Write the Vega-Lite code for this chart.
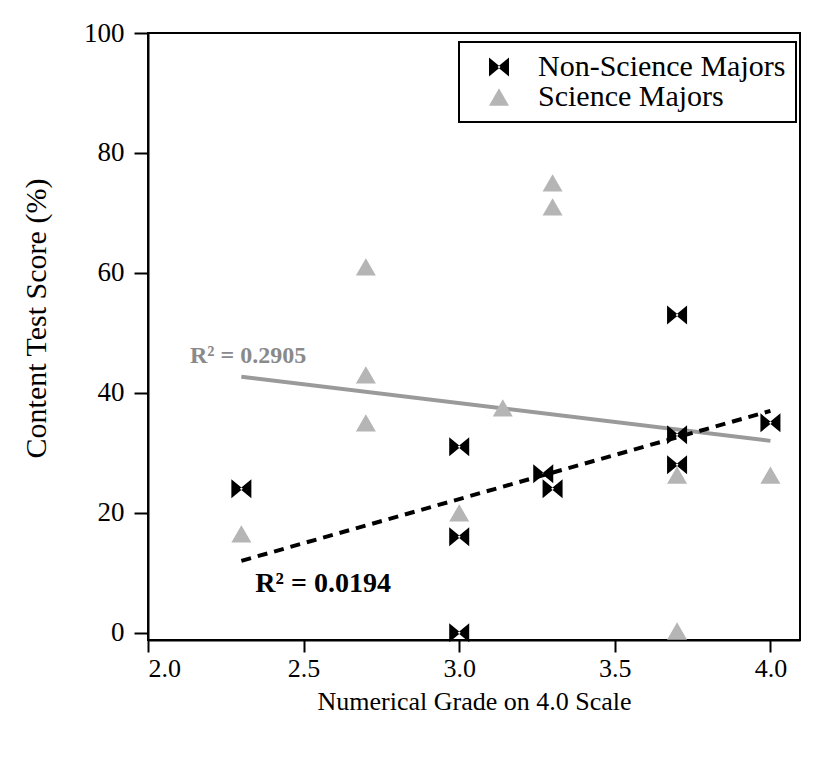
{
  "$schema": "https://vega.github.io/schema/vega-lite/v6.json",
  "width": 652,
  "height": 607,
  "autosize": {"type": "none"},
  "padding": {"left": 148, "top": 33, "right": 14, "bottom": 122},
  "background": "white",
  "config": {
    "font": "Liberation Serif",
    "view": {"stroke": "black", "strokeWidth": 2},
    "axis": {
      "grid": false,
      "domainColor": "black",
      "domainWidth": 2,
      "tickColor": "black",
      "tickWidth": 2,
      "labelColor": "black",
      "titleColor": "black",
      "titleFontWeight": "normal",
      "labelFont": "Liberation Serif",
      "titleFont": "Liberation Serif"
    }
  },
  "layer": [
    {
      "data": {"values": [
        {"grade": 2.3, "score": 42.7},
        {"grade": 4.0, "score": 32}
      ]},
      "mark": {"type": "line", "color": "#9a9a9a", "strokeWidth": 4},
      "encoding": {
        "x": {"field": "grade", "type": "quantitative", "scale": {"domain": [2, 4.095], "nice": false, "zero": false},
          "axis": {"values": [2, 2.5, 3, 3.5, 4], "labelExpr": "format(datum.value, '.1f')", "tickSize": 12, "labelPadding": 3, "labelFontSize": 26, "title": "Numerical Grade on 4.0 Scale", "titleFontSize": 26, "titlePadding": 7}},
        "y": {"field": "score", "type": "quantitative", "scale": {"domain": [-1.2, 100], "nice": false, "zero": false},
          "axis": {"values": [0, 20, 40, 60, 80, 100], "tickSize": 14, "labelPadding": 10, "labelFontSize": 27, "title": "Content Test Score (%)", "titleFontSize": 30, "titlePadding": 32, "titleY": 285}}
      }
    },
    {
      "data": {"values": [
        {"grade": 2.3, "score": 12},
        {"grade": 4.0, "score": 37}
      ]},
      "mark": {"type": "line", "color": "black", "strokeWidth": 4, "strokeDash": [10, 7]},
      "encoding": {
        "x": {"field": "grade", "type": "quantitative"},
        "y": {"field": "score", "type": "quantitative"}
      }
    },
    {
      "data": {"values": [
        {"grade": 2.3, "score": 24, "group": "Non-Science Majors"},
        {"grade": 3.0, "score": 31, "group": "Non-Science Majors"},
        {"grade": 3.0, "score": 16, "group": "Non-Science Majors"},
        {"grade": 3.0, "score": 0, "group": "Non-Science Majors"},
        {"grade": 3.27, "score": 26.5, "group": "Non-Science Majors"},
        {"grade": 3.3, "score": 24, "group": "Non-Science Majors"},
        {"grade": 3.7, "score": 53, "group": "Non-Science Majors"},
        {"grade": 3.7, "score": 33, "group": "Non-Science Majors"},
        {"grade": 3.7, "score": 28, "group": "Non-Science Majors"},
        {"grade": 4.0, "score": 35, "group": "Non-Science Majors"},
        {"grade": 2.3, "score": 16.5, "group": "Science Majors"},
        {"grade": 2.7, "score": 61, "group": "Science Majors"},
        {"grade": 2.7, "score": 43, "group": "Science Majors"},
        {"grade": 2.7, "score": 35, "group": "Science Majors"},
        {"grade": 3.0, "score": 20, "group": "Science Majors"},
        {"grade": 3.14, "score": 37.5, "group": "Science Majors"},
        {"grade": 3.3, "score": 75, "group": "Science Majors"},
        {"grade": 3.3, "score": 71, "group": "Science Majors"},
        {"grade": 3.7, "score": 26.3, "group": "Science Majors"},
        {"grade": 3.7, "score": 0.3, "group": "Science Majors"},
        {"grade": 4.0, "score": 26.3, "group": "Science Majors"}
      ]},
      "mark": {"type": "point", "filled": true, "opacity": 1, "strokeWidth": 0, "size": 400},
      "encoding": {
        "x": {"field": "grade", "type": "quantitative"},
        "y": {"field": "score", "type": "quantitative"},
        "color": {"field": "group", "type": "nominal",
          "scale": {"domain": ["Non-Science Majors", "Science Majors"], "range": ["#000000", "#b5b5b5"]},
          "legend": {"title": null, "orient": "none", "legendX": 311, "legendY": 9,
            "strokeColor": "black", "padding": 10, "labelFontSize": 30, "labelColor": "black", "labelLimit": 400,
            "symbolSize": 400, "symbolOffset": 15, "labelOffset": 24, "rowPadding": 0, "symbolStrokeWidth": 0, "symbolOpacity": 1,
            "encode": {"legend": {"update": {"strokeWidth": {"value": 2}}}}}},
        "shape": {"field": "group", "type": "nominal",
          "scale": {"domain": ["Non-Science Majors", "Science Majors"], "range": ["M-1,-0.95L0.15,0L-1,0.95ZM1,-0.95L-0.15,0L1,0.95Z", "triangle-up"]}}
      }
    },
    {
      "data": {"values": [{"grade": 2.135, "score": 45.0, "label": "R² = 0.2905"}]},
      "mark": {"type": "text", "align": "left", "baseline": "alphabetic", "fontSize": 24, "fontWeight": "bold", "font": "Liberation Serif", "color": "#8a8a8a"},
      "encoding": {
        "x": {"field": "grade", "type": "quantitative"},
        "y": {"field": "score", "type": "quantitative"},
        "text": {"field": "label", "type": "nominal"}
      }
    },
    {
      "data": {"values": [{"grade": 2.345, "score": 6.8, "label": "R² = 0.0194"}]},
      "mark": {"type": "text", "align": "left", "baseline": "alphabetic", "fontSize": 28, "fontWeight": "bold", "font": "Liberation Serif", "color": "#000000"},
      "encoding": {
        "x": {"field": "grade", "type": "quantitative"},
        "y": {"field": "score", "type": "quantitative"},
        "text": {"field": "label", "type": "nominal"}
      }
    }
  ]
}
